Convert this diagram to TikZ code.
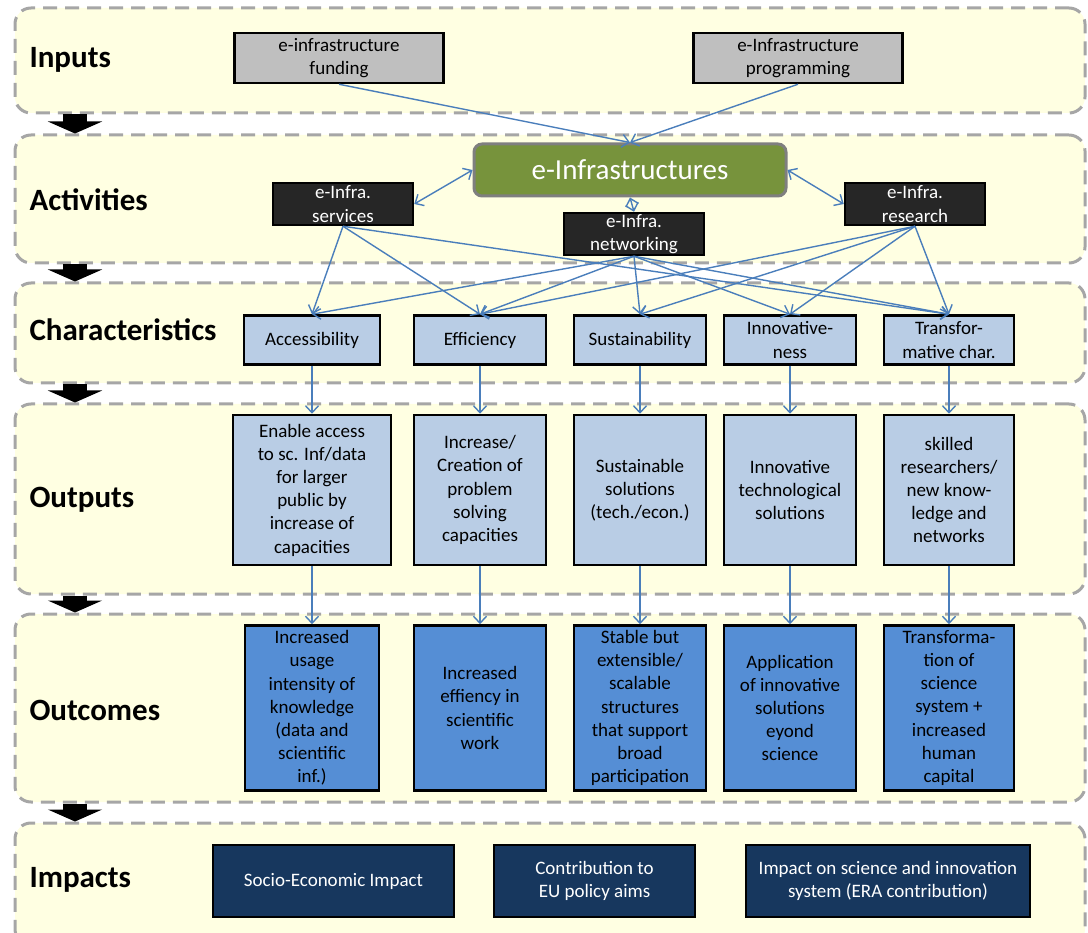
\documentclass[tikz,border=0pt]{standalone}
\usepackage{fontspec}
\setmainfont{Carlito}
\usetikzlibrary{arrows.meta,positioning}
\definecolor{bandfill}{RGB}{255,255,226}
\definecolor{banddash}{RGB}{166,166,166}
\definecolor{inputgray}{RGB}{191,191,191}
\definecolor{actblack}{RGB}{38,38,38}
\definecolor{coregreen}{RGB}{119,147,60}
\definecolor{coreedge}{RGB}{127,127,127}
\definecolor{charblue}{RGB}{185,205,229}
\definecolor{outcblue}{RGB}{85,142,213}
\definecolor{impnavy}{RGB}{23,55,94}
\definecolor{linkblue}{RGB}{74,126,187}
\tikzset{
	band/.style={draw=banddash, fill=bandfill, line width=3pt, dash pattern=on 14pt off 8pt,
		rounded corners=16pt, minimum width=1070pt},
	bandlabel/.style={anchor=west, font=\fontsize{31}{36}\selectfont\bfseries},
	box/.style={draw=black, line width=2.5pt, align=center, inner sep=0pt,
		font=\fontsize{19}{23.2}\selectfont},
	inbox/.style={box, fill=inputgray, minimum width=209pt, minimum height=50pt},
	actbox/.style={box, fill=actblack, text=white, minimum width=140pt, minimum height=42pt},
	corebox/.style={draw=coreedge, line width=3pt, fill=coregreen, rounded corners=8pt,
		text=white, font=\fontsize{29}{34}\selectfont, minimum width=312pt, minimum height=52pt},
	charbox/.style={box, fill=charblue, minimum width=132pt, minimum height=49pt},
	outbox/.style={box, fill=charblue, minimum width=132pt, minimum height=150pt},
	outcbox/.style={box, fill=outcblue, minimum width=132pt, minimum height=165pt},
	impbox/.style={box, fill=impnavy, text=white, minimum height=72pt},
	link/.style={draw=linkblue, line width=1.4pt, -{Straight Barb[length=7pt,width=13pt]}},
	duallink/.style={link, {Straight Barb[length=7pt,width=13pt]}-{Straight Barb[length=7pt,width=13pt]}},
	stagearr/.style={line width=24pt, -{Triangle[length=12pt,width=54pt]}}
}
\begin{document}
\begin{tikzpicture}[x=1pt, y=-1pt]
	\useasboundingbox (0,0) rectangle (1088,933);
	% stage bands
	\node[band, minimum height=105pt] (inputs) at (550,60.5) {};
	\node[band, minimum height=128pt] (activities) at (550,199) {};
	\node[band, minimum height=100pt] (characteristics) at (550,333) {};
	\node[band, minimum height=190pt] (outputs) at (550,499) {};
	\node[band, minimum height=188pt] (outcomes) at (550,708) {};
	\node[band, minimum height=122pt] (impacts) at (550,884) {};
	\node[bandlabel] (lblin) at (26,60) {Inputs};
	\node[bandlabel] (lblact) at (26,200) {Activities};
	\node[bandlabel] (lblchar) at (26,330) {Characteristics};
	\node[bandlabel] (lblout) at (26,500) {Outputs};
	\node[bandlabel] (lbloutc) at (26,710) {Outcomes};
	\node[bandlabel] (lblimp) at (26,880) {Impacts};
	\coordinate (stagex) at (75,0);
	\draw[stagearr] (inputs.south -| stagex) -- (activities.north -| stagex);
	\draw[stagearr] (activities.south -| stagex) -- (characteristics.north -| stagex);
	\draw[stagearr] (characteristics.south -| stagex) -- (outputs.north -| stagex);
	\draw[stagearr] (outputs.south -| stagex) -- (outcomes.north -| stagex);
	\draw[stagearr] (outcomes.south -| stagex) -- (impacts.north -| stagex);

	% inputs and activities
	\node[inbox] (fund) at (339,58) {e-infrastructure\\funding};
	\node[inbox] (prog) at (798,58) {e-Infrastructure\\programming};
	\node[corebox] (core) at (630,170) {e-Infrastructures};
	\node[actbox] (serv) at (343,204) {e-Infra.\\services};
	\node[actbox] (net) at (634,234) {e-Infra.\\networking};
	\node[actbox] (res) at (915,204) {e-Infra.\\research};

	% characteristics -> outputs -> outcomes
	\node[charbox, minimum width=136pt] (acc) at (312,340) {Accessibility};
	\node[charbox] (eff) at (480,340) {Efficiency};
	\node[charbox] (sus) at (640,340) {Sustainability};
	\node[charbox] (inn) at (790,340) {Innovative-\\ness};
	\node[charbox, minimum width=130pt] (tra) at (949,340) {Transfor-\\mative char.};

	\node[outbox, minimum width=158pt, below=48pt of acc] (outacc) {Enable access\\to sc. Inf/data\\for larger\\public by\\increase of\\capacities};
	\node[outbox, below=48pt of eff] (outeff) {Increase/\\Creation of\\problem\\solving\\capacities};
	\node[outbox, below=48pt of sus] (outsus) {Sustainable\\solutions\\(tech./econ.)};
	\node[outbox, below=48pt of inn] (outinn) {Innovative\\technological\\solutions};
	\node[outbox, minimum width=130pt, below=48pt of tra] (outtra) {skilled\\researchers/\\new know-\\ledge and\\networks};

	\node[outcbox, minimum width=134pt, below=58pt of outacc] (outcacc) {Increased\\usage\\intensity of\\knowledge\\(data and\\scientific\\inf.)};
	\node[outcbox, below=58pt of outeff] (outceff) {Increased\\effiency in\\scientific\\work};
	\node[outcbox, below=58pt of outsus] (outcsus) {Stable but\\extensible/\\scalable\\structures\\that support\\broad\\participation};
	\node[outcbox, below=58pt of outinn] (outcinn) {Application\\of innovative\\solutions\\eyond\\science};
	\node[outcbox, minimum width=130pt, below=58pt of outtra] (outctra) {Transforma-\\tion of\\science\\system +\\increased\\human\\capital};

	% impacts
	\node[impbox, minimum width=241pt] (socio) at (333.5,881) {Socio-Economic Impact};
	\node[impbox, minimum width=201pt] (policy) at (594.5,881) {Contribution to\\EU policy aims};
	\node[impbox, minimum width=284pt] (era) at (888,881) {Impact on science and innovation\\system (ERA contribution)};

	% links
	\draw[link] (fund.south) -- (core.north);
	\draw[link] (prog.south) -- (core.north);
	\draw[duallink] (serv.east) -- (core.west);
	\draw[duallink] (core.east) -- (res.west);
	\draw[duallink] (core.south) -- (net.north);
	\draw[link] (serv.south) -- (acc.north);
	\draw[link] (serv.south) -- (eff.north);
	\draw[link] (serv.south) -- (tra.north);
	\draw[link] (net.south) -- (acc.north);
	\draw[link] (net.south) -- (eff.north);
	\draw[link] (net.south) -- (sus.north);
	\draw[link] (net.south) -- (inn.north);
	\draw[link] (net.south) -- (tra.north);
	\draw[link] (res.south) -- (eff.north);
	\draw[link] (res.south) -- (sus.north);
	\draw[link] (res.south) -- (inn.north);
	\draw[link] (res.south) -- (tra.north);
	\draw[link] (acc) -- (outacc);
	\draw[link] (eff) -- (outeff);
	\draw[link] (sus) -- (outsus);
	\draw[link] (inn) -- (outinn);
	\draw[link] (tra) -- (outtra);
	\draw[link] (outacc) -- (outcacc);
	\draw[link] (outeff) -- (outceff);
	\draw[link] (outsus) -- (outcsus);
	\draw[link] (outinn) -- (outcinn);
	\draw[link] (outtra) -- (outctra);
\end{tikzpicture}
\end{document}
